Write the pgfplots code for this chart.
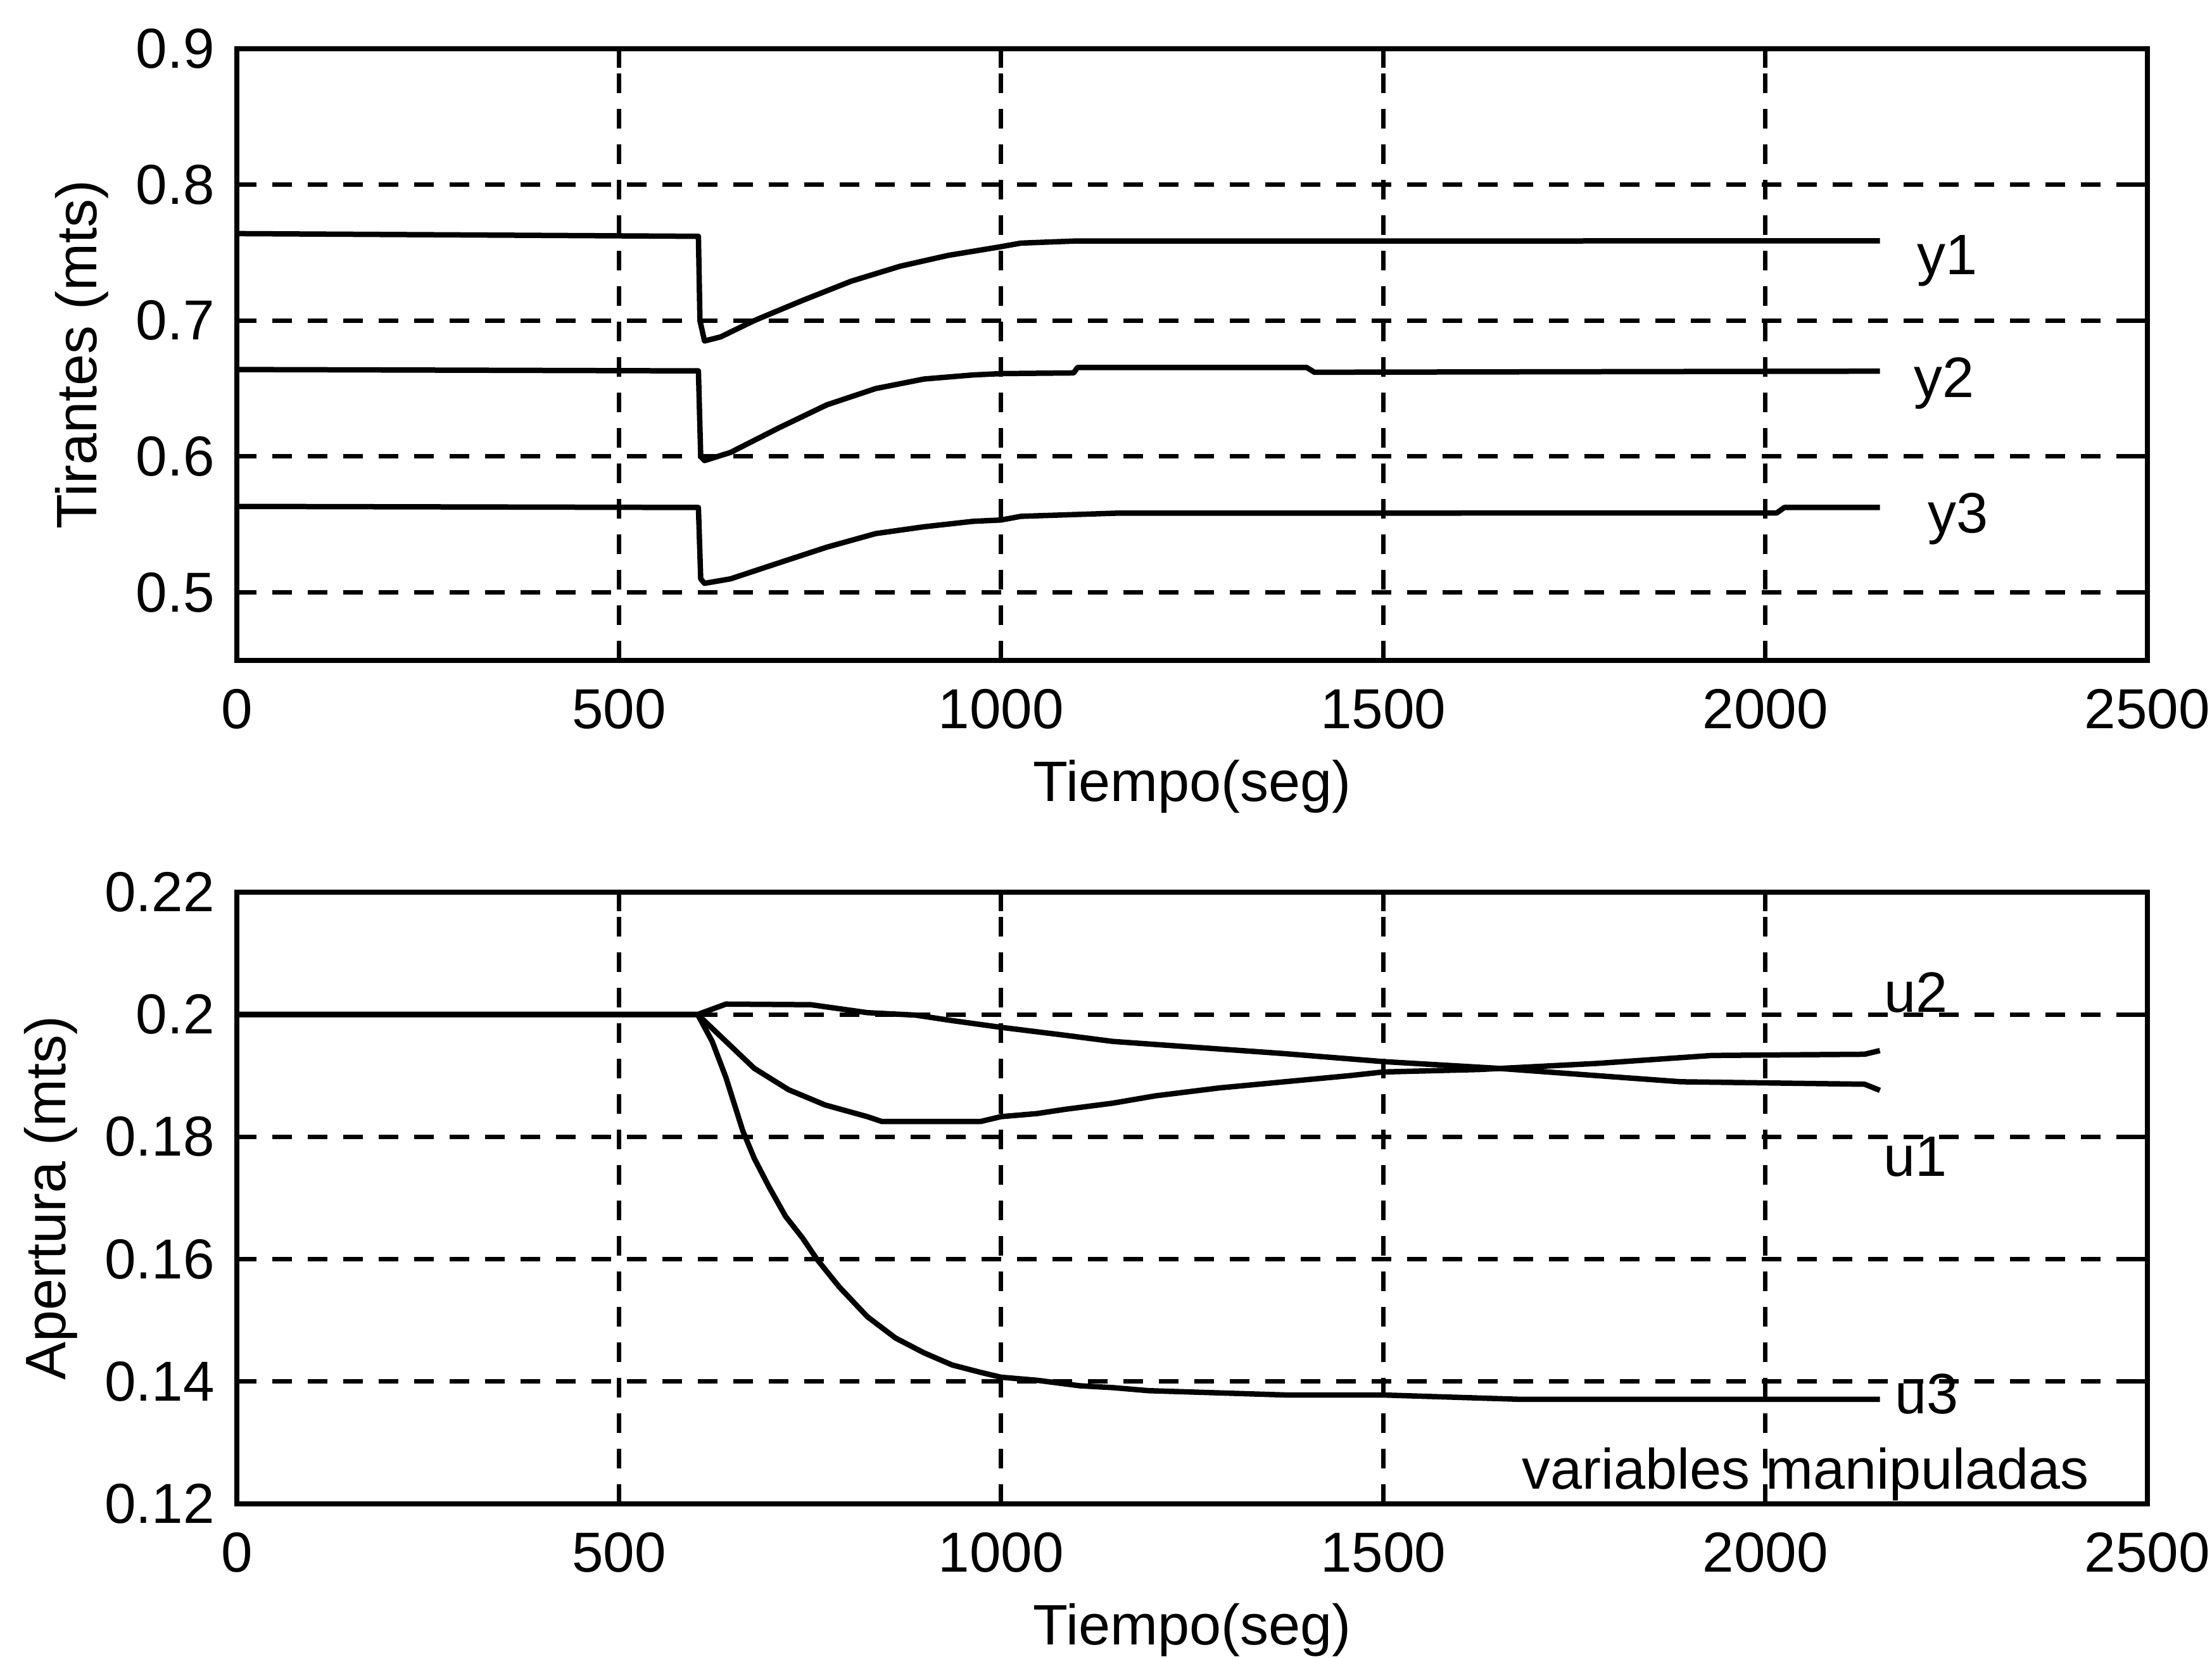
\documentclass[border=0pt]{standalone}
\usepackage{fontspec}
\setmainfont{Liberation Sans}
\usepackage{pgfplots}
\pgfplotsset{compat=1.18}

% water levels y1..y3 (m) vs time (s)
\pgfplotstableread{
t v
0 0.764
604 0.762
606 0.700
612 0.685
633 0.688
677 0.700
741 0.715
804 0.729
868 0.740
931 0.748
996 0.754
1026 0.757
1095 0.7585
1500 0.7585
2000 0.7587
2150 0.7587
}\yone
\pgfplotstableread{
t v
0 0.664
604 0.663
607 0.600
612 0.597
646 0.603
709 0.621
772 0.638
836 0.650
899 0.657
963 0.660
1000 0.661
1095 0.6615
1100 0.6655
1400 0.6655
1410 0.662
2150 0.6628
}\ytwo
\pgfplotstableread{
t v
0 0.5633
604 0.5625
607 0.510
612 0.5067
646 0.510
709 0.5217
772 0.5333
836 0.5433
899 0.5483
963 0.5523
1000 0.5533
1026 0.556
1150 0.5583
2015 0.5585
2025 0.5625
2150 0.5625
}\ythree
% gate openings u1..u3 (m) vs time (s)
\pgfplotstableread{
t v
0 0.2
603 0.2
640 0.1956
677 0.1912
722 0.1877
770 0.1852
825 0.1833
844 0.1825
973 0.1825
1000 0.1833
1047 0.1838
1084 0.1845
1146 0.1855
1202 0.1867
1286 0.1880
1371 0.1890
1456 0.1900
1500 0.1906
1625 0.1910
1780 0.1920
1930 0.1933
2130 0.1935
2150 0.1941
}\uone
\pgfplotstableread{
t v
0 0.2
603 0.2
640 0.2017
751 0.2016
825 0.2003
888 0.1999
936 0.1990
1000 0.1979
1084 0.1966
1146 0.1956
1202 0.1951
1371 0.1936
1500 0.1923
1650 0.1912
1780 0.1900
1890 0.1890
2130 0.1886
2150 0.1876
}\utwo
\pgfplotstableread{
t v
0 0.2
603 0.2
622 0.1956
640 0.1897
662 0.1810
677 0.1765
696 0.1719
718 0.1670
740 0.1635
759 0.1600
788 0.1555
825 0.1506
862 0.1471
899 0.1447
936 0.1427
973 0.1415
1000 0.1407
1047 0.1402
1103 0.1393
1146 0.1390
1193 0.1385
1371 0.1378
1498 0.1378
1676 0.1371
2150 0.1371
}\uthree

\tikzset{curve/.style={black, line width=0.85pt, mark=none, line join=round}}

\pgfplotsset{
  panel/.style={
    scale only axis, width=301.7pt, height=96.6pt,
    xmin=0, xmax=2500,
    xtick={0,500,1000,1500,2000,2500},
    xticklabels={0,500,1000,1500,2000,2500},
    grid=major,
    major grid style={black, line width=0.7pt, dash pattern=on 3.1pt off 2.5pt},
    axis line style={black, line width=0.8pt},
    tick style={black, line width=0.7pt},
    tick align=inside, major tick length=3pt,
    every tick label/.append style={font=\fontsize{8.9}{10}\selectfont},
    xticklabel style={yshift=-1pt},
    /pgf/number format/assume math mode=true,
    label style={font=\fontsize{9}{11}\selectfont},
    xlabel={Tiempo(seg)},
    xlabel style={yshift=2pt},
    ylabel style={yshift=-2.5pt},
    clip=false,
  }
}

\begin{document}
\begin{tikzpicture}
\useasboundingbox (0,0) rectangle (349.3pt,262pt);

\begin{axis}[panel, at={(37.4pt,157.7pt)}, anchor=south west,
  ymin=0.45, ymax=0.9,
  ytick={0.5,0.6,0.7,0.8,0.9},
  yticklabels={0.5,0.6,0.7,0.8,0.9},
  ylabel={Tirantes (mts)}]
  \addplot[curve] table[x=t,y=v] {\yone};
  \addplot[curve] table[x=t,y=v] {\ytwo};
  \addplot[curve] table[x=t,y=v] {\ythree};
  \node[font=\fontsize{9}{11}\selectfont] at (axis cs:2238,0.744) {y1};
  \node[font=\fontsize{9}{11}\selectfont] at (axis cs:2234,0.654) {y2};
  \node[font=\fontsize{9}{11}\selectfont] at (axis cs:2252,0.554) {y3};
\end{axis}

\begin{axis}[panel, at={(37.4pt,24.5pt)}, anchor=south west,
  ymin=0.12, ymax=0.22,
  ytick={0.12,0.14,0.16,0.18,0.2,0.22},
  yticklabels={0.12,0.14,0.16,0.18,0.2,0.22},
  ylabel={Apertura (mts)}]
  \addplot[curve] table[x=t,y=v] {\uone};
  \addplot[curve] table[x=t,y=v] {\utwo};
  \addplot[curve] table[x=t,y=v] {\uthree};
  \node[font=\fontsize{9}{11}\selectfont] at (axis cs:2197,0.2036) {u2};
  \node[font=\fontsize{9}{11}\selectfont] at (axis cs:2196,0.1767) {u1};
  \node[font=\fontsize{9}{11}\selectfont] at (axis cs:2211,0.1380) {u3};
  \node[font=\fontsize{9}{11}\selectfont] at (axis cs:2053,0.1248) {variables manipuladas};
\end{axis}
\end{tikzpicture}
\end{document}
